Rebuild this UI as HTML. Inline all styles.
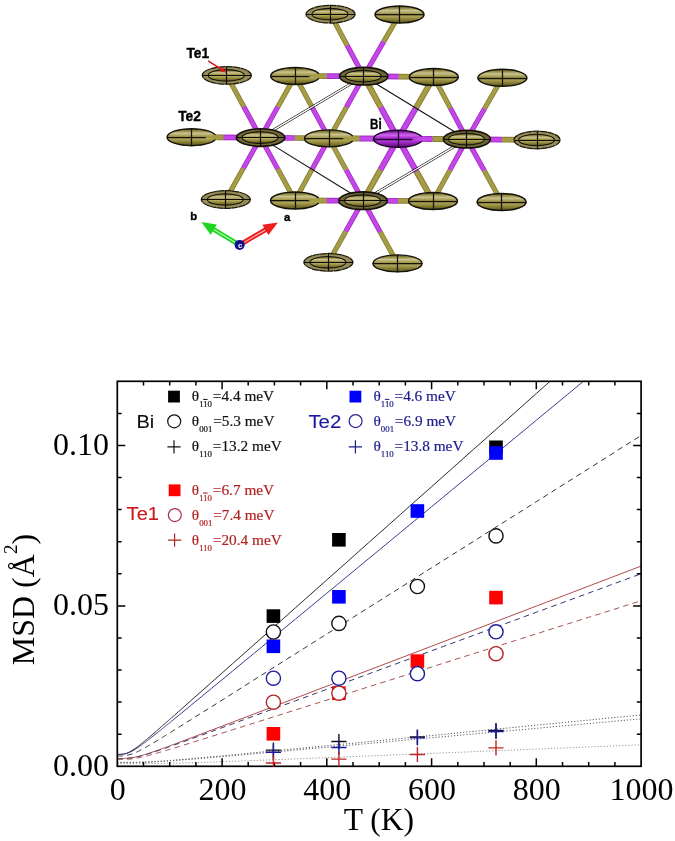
<!DOCTYPE html>
<html><head><meta charset="utf-8"><title>Figure</title>
<style>html,body{margin:0;padding:0;background:#fff}svg{display:block}</style></head>
<body>
<svg width="675" height="841" viewBox="0 0 675 841">
<rect width="675" height="841" fill="#fff"/>
<g id="structure">
<defs>
<linearGradient id="gTe" x1="0" y1="0" x2="0" y2="1">
<stop offset="0" stop-color="#4f4718"/><stop offset="0.12" stop-color="#8e8540"/><stop offset="0.27" stop-color="#cbc390"/><stop offset="0.45" stop-color="#a0974a"/><stop offset="0.51" stop-color="#7d7430"/><stop offset="0.58" stop-color="#b3aa62"/><stop offset="0.76" stop-color="#8f8638"/><stop offset="0.92" stop-color="#6a6226"/><stop offset="1" stop-color="#453d14"/>
</linearGradient>
<linearGradient id="gBi" x1="0" y1="0" x2="0" y2="1">
<stop offset="0" stop-color="#5a0f78"/><stop offset="0.12" stop-color="#9a28bc"/><stop offset="0.28" stop-color="#cf68ee"/><stop offset="0.45" stop-color="#a62acc"/><stop offset="0.51" stop-color="#7a1a9a"/><stop offset="0.58" stop-color="#b840de"/><stop offset="0.76" stop-color="#9422b8"/><stop offset="0.92" stop-color="#6a1488"/><stop offset="1" stop-color="#420a58"/>
</linearGradient>
</defs>
<g fill="none">
<path d="M260.6,137.6L223.3,137.4" stroke="#a02cc2" stroke-width="5.7"/><path d="M260.6,137.6L223.3,137.4" stroke="#c446e8" stroke-width="3.9"/>
<path d="M223.3,137.4L191.6,137.2" stroke="#857c32" stroke-width="5.7"/><path d="M223.3,137.4L191.6,137.2" stroke="#a69c46" stroke-width="3.9"/>
<path d="M260.6,137.6L294.8,138.0" stroke="#a02cc2" stroke-width="5.7"/><path d="M260.6,137.6L294.8,138.0" stroke="#c446e8" stroke-width="3.9"/>
<path d="M294.8,138.0L329.0,138.4" stroke="#857c32" stroke-width="5.7"/><path d="M294.8,138.0L329.0,138.4" stroke="#a69c46" stroke-width="3.9"/>
<path d="M260.6,137.6L243.7,106.5" stroke="#a02cc2" stroke-width="5.1"/><path d="M260.6,137.6L243.7,106.5" stroke="#c446e8" stroke-width="3.5"/>
<path d="M243.7,106.5L226.8,75.4" stroke="#857c32" stroke-width="5.1"/><path d="M243.7,106.5L226.8,75.4" stroke="#a69c46" stroke-width="3.5"/>
<path d="M260.6,137.6L277.9,106.8" stroke="#a02cc2" stroke-width="5.1"/><path d="M260.6,137.6L277.9,106.8" stroke="#c446e8" stroke-width="3.5"/>
<path d="M277.9,106.8L295.2,76.0" stroke="#857c32" stroke-width="5.1"/><path d="M277.9,106.8L295.2,76.0" stroke="#a69c46" stroke-width="3.5"/>
<path d="M260.6,137.6L243.2,168.6" stroke="#a02cc2" stroke-width="5.1"/><path d="M260.6,137.6L243.2,168.6" stroke="#c446e8" stroke-width="3.5"/>
<path d="M243.2,168.6L225.8,199.5" stroke="#857c32" stroke-width="5.1"/><path d="M243.2,168.6L225.8,199.5" stroke="#a69c46" stroke-width="3.5"/>
<path d="M260.6,137.6L277.8,169.1" stroke="#a02cc2" stroke-width="5.1"/><path d="M260.6,137.6L277.8,169.1" stroke="#c446e8" stroke-width="3.5"/>
<path d="M277.8,169.1L295.0,200.5" stroke="#857c32" stroke-width="5.1"/><path d="M277.8,169.1L295.0,200.5" stroke="#a69c46" stroke-width="3.5"/>
<path d="M363.7,76.2L326.7,76.1" stroke="#a02cc2" stroke-width="5.7"/><path d="M363.7,76.2L326.7,76.1" stroke="#c446e8" stroke-width="3.9"/>
<path d="M326.7,76.1L295.2,76.0" stroke="#857c32" stroke-width="5.7"/><path d="M326.7,76.1L295.2,76.0" stroke="#a69c46" stroke-width="3.9"/>
<path d="M363.7,76.2L398.8,76.6" stroke="#a02cc2" stroke-width="5.7"/><path d="M363.7,76.2L398.8,76.6" stroke="#c446e8" stroke-width="3.9"/>
<path d="M398.8,76.6L433.8,77.0" stroke="#857c32" stroke-width="5.7"/><path d="M398.8,76.6L433.8,77.0" stroke="#a69c46" stroke-width="3.9"/>
<path d="M363.7,76.2L347.1,45.2" stroke="#a02cc2" stroke-width="5.1"/><path d="M363.7,76.2L347.1,45.2" stroke="#c446e8" stroke-width="3.5"/>
<path d="M347.1,45.2L330.5,14.2" stroke="#857c32" stroke-width="5.1"/><path d="M347.1,45.2L330.5,14.2" stroke="#a69c46" stroke-width="3.5"/>
<path d="M363.7,76.2L383.7,41.6" stroke="#a02cc2" stroke-width="5.1"/><path d="M363.7,76.2L383.7,41.6" stroke="#c446e8" stroke-width="3.5"/>
<path d="M383.7,41.6L399.5,14.5" stroke="#857c32" stroke-width="5.1"/><path d="M383.7,41.6L399.5,14.5" stroke="#a69c46" stroke-width="3.5"/>
<path d="M363.7,76.2L346.4,107.3" stroke="#a02cc2" stroke-width="5.1"/><path d="M363.7,76.2L346.4,107.3" stroke="#c446e8" stroke-width="3.5"/>
<path d="M346.4,107.3L329.0,138.4" stroke="#857c32" stroke-width="5.1"/><path d="M346.4,107.3L329.0,138.4" stroke="#a69c46" stroke-width="3.5"/>
<path d="M363.0,200.7L326.3,200.6" stroke="#a02cc2" stroke-width="5.7"/><path d="M363.0,200.7L326.3,200.6" stroke="#c446e8" stroke-width="3.9"/>
<path d="M326.3,200.6L295.0,200.5" stroke="#857c32" stroke-width="5.7"/><path d="M326.3,200.6L295.0,200.5" stroke="#a69c46" stroke-width="3.9"/>
<path d="M363.0,200.7L398.0,200.8" stroke="#a02cc2" stroke-width="5.7"/><path d="M363.0,200.7L398.0,200.8" stroke="#c446e8" stroke-width="3.9"/>
<path d="M398.0,200.8L433.0,201.0" stroke="#857c32" stroke-width="5.7"/><path d="M398.0,200.8L433.0,201.0" stroke="#a69c46" stroke-width="3.9"/>
<path d="M363.0,200.7L345.7,231.5" stroke="#a02cc2" stroke-width="5.1"/><path d="M363.0,200.7L345.7,231.5" stroke="#c446e8" stroke-width="3.5"/>
<path d="M345.7,231.5L328.4,262.3" stroke="#857c32" stroke-width="5.1"/><path d="M345.7,231.5L328.4,262.3" stroke="#a69c46" stroke-width="3.5"/>
<path d="M363.0,200.7L380.2,232.0" stroke="#a02cc2" stroke-width="5.1"/><path d="M363.0,200.7L380.2,232.0" stroke="#c446e8" stroke-width="3.5"/>
<path d="M380.2,232.0L397.5,263.4" stroke="#857c32" stroke-width="5.1"/><path d="M380.2,232.0L397.5,263.4" stroke="#a69c46" stroke-width="3.5"/>
<path d="M363.0,200.7L346.0,169.6" stroke="#a02cc2" stroke-width="5.1"/><path d="M363.0,200.7L346.0,169.6" stroke="#c446e8" stroke-width="3.5"/>
<path d="M346.0,169.6L329.0,138.4" stroke="#857c32" stroke-width="5.1"/><path d="M346.0,169.6L329.0,138.4" stroke="#a69c46" stroke-width="3.5"/>
<path d="M466.9,139.2L501.9,139.6" stroke="#a02cc2" stroke-width="5.7"/><path d="M466.9,139.2L501.9,139.6" stroke="#c446e8" stroke-width="3.9"/>
<path d="M501.9,139.6L537.0,140.0" stroke="#857c32" stroke-width="5.7"/><path d="M501.9,139.6L537.0,140.0" stroke="#a69c46" stroke-width="3.9"/>
<path d="M466.9,139.2L450.4,108.1" stroke="#a02cc2" stroke-width="5.1"/><path d="M466.9,139.2L450.4,108.1" stroke="#c446e8" stroke-width="3.5"/>
<path d="M450.4,108.1L433.8,77.0" stroke="#857c32" stroke-width="5.1"/><path d="M450.4,108.1L433.8,77.0" stroke="#a69c46" stroke-width="3.5"/>
<path d="M466.9,139.2L484.6,108.5" stroke="#a02cc2" stroke-width="5.1"/><path d="M466.9,139.2L484.6,108.5" stroke="#c446e8" stroke-width="3.5"/>
<path d="M484.6,108.5L502.4,77.8" stroke="#857c32" stroke-width="5.1"/><path d="M484.6,108.5L502.4,77.8" stroke="#a69c46" stroke-width="3.5"/>
<path d="M466.9,139.2L449.9,170.1" stroke="#a02cc2" stroke-width="5.1"/><path d="M466.9,139.2L449.9,170.1" stroke="#c446e8" stroke-width="3.5"/>
<path d="M449.9,170.1L433.0,201.0" stroke="#857c32" stroke-width="5.1"/><path d="M449.9,170.1L433.0,201.0" stroke="#a69c46" stroke-width="3.5"/>
<path d="M466.9,139.2L484.2,170.6" stroke="#a02cc2" stroke-width="5.1"/><path d="M466.9,139.2L484.2,170.6" stroke="#c446e8" stroke-width="3.5"/>
<path d="M484.2,170.6L501.6,202.0" stroke="#857c32" stroke-width="5.1"/><path d="M484.2,170.6L501.6,202.0" stroke="#a69c46" stroke-width="3.5"/>
<path d="M363.7,76.2L380.9,107.5" stroke="#857c32" stroke-width="6.0"/><path d="M363.7,76.2L380.9,107.5" stroke="#a69c46" stroke-width="4.1"/>
<path d="M380.9,107.5L398.0,138.8" stroke="#a02cc2" stroke-width="6.0"/><path d="M380.9,107.5L398.0,138.8" stroke="#c446e8" stroke-width="4.1"/>
<path d="M363.0,200.7L380.5,169.8" stroke="#857c32" stroke-width="6.0"/><path d="M363.0,200.7L380.5,169.8" stroke="#a69c46" stroke-width="4.1"/>
<path d="M380.5,169.8L398.0,138.8" stroke="#a02cc2" stroke-width="6.0"/><path d="M380.5,169.8L398.0,138.8" stroke="#c446e8" stroke-width="4.1"/>
<path d="M466.9,139.2L432.4,139.0" stroke="#857c32" stroke-width="6.0"/><path d="M466.9,139.2L432.4,139.0" stroke="#a69c46" stroke-width="4.1"/>
<path d="M432.4,139.0L398.0,138.8" stroke="#a02cc2" stroke-width="6.0"/><path d="M432.4,139.0L398.0,138.8" stroke="#c446e8" stroke-width="4.1"/>
<path d="M398.0,138.8L359.4,138.6" stroke="#a02cc2" stroke-width="6.0"/><path d="M398.0,138.8L359.4,138.6" stroke="#c446e8" stroke-width="4.1"/>
<path d="M359.4,138.6L329.0,138.4" stroke="#857c32" stroke-width="6.0"/><path d="M359.4,138.6L329.0,138.4" stroke="#a69c46" stroke-width="4.1"/>
<path d="M398.0,138.8L415.9,107.9" stroke="#a02cc2" stroke-width="6.0"/><path d="M398.0,138.8L415.9,107.9" stroke="#c446e8" stroke-width="4.1"/>
<path d="M415.9,107.9L433.8,77.0" stroke="#857c32" stroke-width="6.0"/><path d="M415.9,107.9L433.8,77.0" stroke="#a69c46" stroke-width="4.1"/>
<path d="M398.0,138.8L416.6,171.8" stroke="#a02cc2" stroke-width="6.0"/><path d="M398.0,138.8L416.6,171.8" stroke="#c446e8" stroke-width="4.1"/>
<path d="M416.6,171.8L433.0,201.0" stroke="#857c32" stroke-width="6.0"/><path d="M416.6,171.8L433.0,201.0" stroke="#a69c46" stroke-width="4.1"/>
<path d="M329.0,138.4L312.1,107.2" stroke="#a02cc2" stroke-width="5.1"/><path d="M329.0,138.4L312.1,107.2" stroke="#c446e8" stroke-width="3.5"/>
<path d="M312.1,107.2L295.2,76.0" stroke="#857c32" stroke-width="5.1"/><path d="M312.1,107.2L295.2,76.0" stroke="#a69c46" stroke-width="3.5"/>
<path d="M329.0,138.4L312.0,169.4" stroke="#a02cc2" stroke-width="5.1"/><path d="M329.0,138.4L312.0,169.4" stroke="#c446e8" stroke-width="3.5"/>
<path d="M312.0,169.4L295.0,200.5" stroke="#857c32" stroke-width="5.1"/><path d="M312.0,169.4L295.0,200.5" stroke="#a69c46" stroke-width="3.5"/>
</g>
<path d="M260.1,136.8L363.2,75.4" stroke="#111" stroke-width="0.8"/><path d="M261.1,138.4L364.2,77.0" stroke="#111" stroke-width="0.8"/><path d="M260.6,137.6L363.7,76.2" stroke="#fff" stroke-width="1.0"/>
<path d="M362.5,199.9L466.4,138.4" stroke="#111" stroke-width="0.8"/><path d="M363.5,201.5L467.4,140.0" stroke="#111" stroke-width="0.8"/><path d="M363.0,200.7L466.9,139.2" stroke="#fff" stroke-width="1.0"/>
<path d="M363.7,76.2L466.9,139.2" stroke="#111" stroke-width="1.1"/>
<path d="M260.6,137.6L363.0,200.7" stroke="#111" stroke-width="1.1"/>
<ellipse cx="433.8" cy="77.0" rx="24.5" ry="8.5" fill="url(#gTe)" stroke="#15120a" stroke-width="1.4"/><path d="M409.0,77.5H458.6M433.5,68.2V85.8" stroke="#15120a" stroke-width="1.25" fill="none"/>
<ellipse cx="502.4" cy="77.8" rx="24.5" ry="8.5" fill="url(#gTe)" stroke="#15120a" stroke-width="1.4"/><path d="M477.6,78.5H527.2M502.5,69.0V86.6" stroke="#15120a" stroke-width="1.25" fill="none"/>
<ellipse cx="433.0" cy="201.0" rx="24.5" ry="8.5" fill="url(#gTe)" stroke="#15120a" stroke-width="1.4"/><path d="M408.2,201.5H457.8M433.5,192.2V209.8" stroke="#15120a" stroke-width="1.25" fill="none"/>
<ellipse cx="501.6" cy="202.0" rx="24.5" ry="8.5" fill="url(#gTe)" stroke="#15120a" stroke-width="1.4"/><path d="M476.8,202.5H526.4M501.5,193.2V210.8" stroke="#15120a" stroke-width="1.25" fill="none"/>
<ellipse cx="399.5" cy="14.5" rx="24.5" ry="8.5" fill="url(#gTe)" stroke="#15120a" stroke-width="1.4"/><path d="M374.7,14.5H424.3M399.5,5.7V23.3" stroke="#15120a" stroke-width="1.25" fill="none"/>
<ellipse cx="397.5" cy="263.4" rx="24.5" ry="8.5" fill="url(#gTe)" stroke="#15120a" stroke-width="1.4"/><path d="M372.7,263.5H422.3M397.5,254.6V272.2" stroke="#15120a" stroke-width="1.25" fill="none"/>
<ellipse cx="191.6" cy="137.2" rx="24.5" ry="8.5" fill="url(#gTe)" stroke="#15120a" stroke-width="1.4"/><path d="M166.8,137.5H206.1M191.5,128.4V146.0" stroke="#15120a" stroke-width="1.25" fill="none"/><path d="M204.6,137.5L218.4,134.3L218.4,140.3Z" fill="#a69c46"/>
<ellipse cx="295.2" cy="76.0" rx="24.5" ry="8.5" fill="url(#gTe)" stroke="#15120a" stroke-width="1.4"/><path d="M270.4,76.5H309.7M295.5,67.2V84.8" stroke="#15120a" stroke-width="1.25" fill="none"/><path d="M308.2,76.3L322.0,73.1L322.0,79.1Z" fill="#a69c46"/>
<ellipse cx="329.0" cy="138.4" rx="24.5" ry="8.5" fill="url(#gTe)" stroke="#15120a" stroke-width="1.4"/><path d="M304.2,138.5H343.5M329.5,129.6V147.2" stroke="#15120a" stroke-width="1.25" fill="none"/><path d="M342.0,138.7L355.8,135.5L355.8,141.5Z" fill="#a69c46"/>
<ellipse cx="295.0" cy="200.5" rx="24.5" ry="8.5" fill="url(#gTe)" stroke="#15120a" stroke-width="1.4"/><path d="M270.2,200.5H309.5M295.5,191.7V209.3" stroke="#15120a" stroke-width="1.25" fill="none"/><path d="M308.0,200.8L321.8,197.6L321.8,203.6Z" fill="#a69c46"/>
<ellipse cx="398.0" cy="138.8" rx="24.5" ry="8.5" fill="url(#gBi)" stroke="#1c0626" stroke-width="1.4"/><path d="M373.2,139.5H412.5M398.5,130.0V147.6" stroke="#1c0626" stroke-width="1.25" fill="none"/><path d="M411.0,139.1L424.8,135.9L424.8,141.9Z" fill="#c446e8"/>
<ellipse cx="226.8" cy="75.4" rx="24.5" ry="8.8" fill="#978d58" stroke="#1c180a" stroke-width="1.25" stroke-dasharray="7 0.4"/><ellipse cx="226.3" cy="75.4" rx="18" ry="5.8" fill="url(#gTe)" stroke="#15120a" stroke-width="1.1"/><path d="M202.3,75.5H251.3M226.5,66.6V84.2" stroke="#0c0a05" stroke-width="1.15" fill="none"/>
<ellipse cx="225.8" cy="199.5" rx="24.5" ry="8.8" fill="#978d58" stroke="#1c180a" stroke-width="1.25" stroke-dasharray="7 0.4"/><ellipse cx="225.3" cy="199.5" rx="18" ry="5.8" fill="url(#gTe)" stroke="#15120a" stroke-width="1.1"/><path d="M201.3,199.5H250.3M225.5,190.7V208.3" stroke="#0c0a05" stroke-width="1.15" fill="none"/>
<ellipse cx="330.5" cy="14.2" rx="24.5" ry="8.8" fill="#978d58" stroke="#1c180a" stroke-width="1.25" stroke-dasharray="7 0.4"/><ellipse cx="330.0" cy="14.2" rx="18" ry="5.8" fill="url(#gTe)" stroke="#15120a" stroke-width="1.1"/><path d="M306.0,14.5H355.0M330.5,5.4V23.0" stroke="#0c0a05" stroke-width="1.15" fill="none"/>
<ellipse cx="328.4" cy="262.3" rx="24.5" ry="8.8" fill="#978d58" stroke="#1c180a" stroke-width="1.25" stroke-dasharray="7 0.4"/><ellipse cx="327.9" cy="262.3" rx="18" ry="5.8" fill="url(#gTe)" stroke="#15120a" stroke-width="1.1"/><path d="M303.9,262.5H352.9M328.5,253.5V271.1" stroke="#0c0a05" stroke-width="1.15" fill="none"/>
<ellipse cx="537.0" cy="140.0" rx="23.0" ry="8.8" fill="#978d58" stroke="#1c180a" stroke-width="1.25" stroke-dasharray="7 0.4"/><ellipse cx="536.5" cy="140.0" rx="18" ry="5.8" fill="url(#gTe)" stroke="#15120a" stroke-width="1.1"/><path d="M514.0,140.5H560.0M537.5,131.2V148.8" stroke="#0c0a05" stroke-width="1.15" fill="none"/>
<ellipse cx="260.6" cy="137.6" rx="24.2" ry="8.8" fill="#6e6636" stroke="#15120a" stroke-width="1.6"/><ellipse cx="260.1" cy="137.6" rx="18" ry="5.8" fill="url(#gTe)" stroke="#15120a" stroke-width="1.1"/><path d="M236.4,137.5H284.8M260.5,128.8V146.4" stroke="#0c0a05" stroke-width="1.15" fill="none"/>
<ellipse cx="363.7" cy="76.2" rx="24.2" ry="8.8" fill="#6e6636" stroke="#15120a" stroke-width="1.6"/><ellipse cx="363.2" cy="76.2" rx="18" ry="5.8" fill="url(#gTe)" stroke="#15120a" stroke-width="1.1"/><path d="M339.5,76.5H387.9M363.5,67.4V85.0" stroke="#0c0a05" stroke-width="1.15" fill="none"/>
<ellipse cx="363.0" cy="200.7" rx="24.2" ry="8.8" fill="#6e6636" stroke="#15120a" stroke-width="1.6"/><ellipse cx="362.5" cy="200.7" rx="18" ry="5.8" fill="url(#gTe)" stroke="#15120a" stroke-width="1.1"/><path d="M338.8,200.5H387.2M363.5,191.9V209.5" stroke="#0c0a05" stroke-width="1.15" fill="none"/>
<ellipse cx="466.9" cy="139.2" rx="23.5" ry="8.8" fill="#6e6636" stroke="#15120a" stroke-width="1.6"/><ellipse cx="466.4" cy="139.2" rx="18" ry="5.8" fill="url(#gTe)" stroke="#15120a" stroke-width="1.1"/><path d="M443.4,139.5H490.4M466.5,130.4V148.0" stroke="#0c0a05" stroke-width="1.15" fill="none"/>
<g font-family="'Liberation Sans',sans-serif" font-weight="bold" fill="#000" stroke="#000" stroke-width="0.35" stroke-linejoin="round">
<text x="186.4" y="58.2" font-size="14.9" textLength="22.7" lengthAdjust="spacingAndGlyphs">Te1</text>
<text x="178.2" y="120.6" font-size="14.7" textLength="22.8" lengthAdjust="spacingAndGlyphs">Te2</text>
<text x="370.1" y="128.6" font-size="14.4" textLength="11.6" lengthAdjust="spacingAndGlyphs">Bi</text>
<text x="190.3" y="220.0" font-size="11.3">b</text>
<text x="283.9" y="221.0" font-size="11.3">a</text>
</g>
<path d="M208.2,60.8L224,71" stroke="#e01818" stroke-width="1.5" fill="none"/><path d="M226.4,72.6L220.2,71.6L223,67.4Z" fill="#e01818"/>
<path d="M239.6,244.9L212.9,229.0" stroke="#1fd51f" stroke-width="4.7"/><path d="M239.6,244.9L213.8,229.5" stroke="#b8ffb8" stroke-width="1.2"/><path d="M201.3,222.1L216.8,224.4L210.7,234.7Z" fill="#1fd51f"/>
<path d="M239.6,244.9L266.2,229.4" stroke="#ee1c1c" stroke-width="4.7"/><path d="M239.6,244.9L265.4,229.9" stroke="#ffb0b0" stroke-width="1.2"/><path d="M277.9,222.6L268.4,235.1L262.4,224.7Z" fill="#ee1c1c"/>
<circle cx="239.6" cy="244.9" r="5" fill="#10108c"/>
<text x="240.2" y="247.5" font-family="'Liberation Sans',sans-serif" font-weight="bold" font-size="8" fill="#fff" text-anchor="middle">c</text>
</g>
<g id="plot">
<clipPath id="pc"><rect x="117.3" y="381.3" width="523.8" height="385.0"/></clipPath>
<g clip-path="url(#pc)" fill="none" stroke-width="1">
<path d="M117.3,754.4 L118.3,754.4 L119.4,754.4 L120.4,754.4 L121.5,754.3 L122.5,754.2 L123.6,754.0 L124.6,753.8 L125.7,753.5 L126.7,753.2 L127.8,752.8 L128.8,752.3 L129.9,751.8 L130.9,751.2 L132.0,750.6 L133.0,749.9 L134.1,749.2 L135.1,748.5 L136.2,747.7 L137.2,747.0 L138.3,746.2 L139.3,745.4 L140.3,744.5 L141.4,743.7 L142.4,742.9 L143.5,742.0 L144.5,741.2 L145.6,740.3 L146.6,739.4 L147.7,738.5 L148.7,737.6 L149.8,736.8 L150.8,735.9 L151.9,735.0 L152.9,734.1 L154.0,733.2 L155.0,732.3 L156.1,731.4 L157.1,730.4 L158.2,729.5 L159.2,728.6 L160.3,727.7 L161.3,726.8 L162.3,725.9 L163.4,725.0 L164.4,724.0 L165.5,723.1 L166.5,722.2 L167.6,721.3 L168.6,720.4 L169.7,719.4 L170.7,718.5 L171.8,717.6 L172.8,716.7 L173.9,715.8 L174.9,714.8 L176.0,713.9 L177.0,713.0 L178.1,712.1 L179.1,711.1 L180.2,710.2 L190.6,700.9 L201.1,691.6 L211.6,682.3 L222.1,673.0 L232.5,663.7 L243.0,654.4 L253.5,645.1 L264.0,635.8 L274.4,626.5 L284.9,617.2 L295.4,607.8 L305.9,598.5 L316.3,589.2 L326.8,579.9 L337.3,570.6 L347.8,561.3 L358.2,551.9 L368.7,542.6 L379.2,533.3 L389.7,524.0 L400.2,514.7 L410.6,505.3 L421.1,496.0 L431.6,486.7 L442.1,477.4 L452.5,468.1 L463.0,458.7 L473.5,449.4 L484.0,440.1 L494.4,430.8 L504.9,421.5 L515.4,412.2 L525.9,402.8 L536.3,393.5 L546.8,384.2 L557.3,374.9 L567.8,365.6 L578.2,356.2 L588.7,346.9 L599.2,337.6 L609.7,328.3 L620.1,319.0 L630.6,309.6 L641.1,300.3" stroke="#2a2a2a"/>
<path d="M117.3,754.4 L118.3,754.4 L119.4,754.4 L120.4,754.4 L121.5,754.3 L122.5,754.2 L123.6,754.1 L124.6,753.9 L125.7,753.7 L126.7,753.4 L127.8,753.1 L128.8,752.7 L129.9,752.2 L130.9,751.7 L132.0,751.2 L133.0,750.6 L134.1,750.0 L135.1,749.4 L136.2,748.7 L137.2,748.0 L138.3,747.3 L139.3,746.6 L140.3,745.8 L141.4,745.1 L142.4,744.3 L143.5,743.5 L144.5,742.8 L145.6,742.0 L146.6,741.2 L147.7,740.4 L148.7,739.5 L149.8,738.7 L150.8,737.9 L151.9,737.1 L152.9,736.3 L154.0,735.4 L155.0,734.6 L156.1,733.8 L157.1,732.9 L158.2,732.1 L159.2,731.2 L160.3,730.4 L161.3,729.5 L162.3,728.7 L163.4,727.8 L164.4,727.0 L165.5,726.2 L166.5,725.3 L167.6,724.4 L168.6,723.6 L169.7,722.7 L170.7,721.9 L171.8,721.0 L172.8,720.2 L173.9,719.3 L174.9,718.5 L176.0,717.6 L177.0,716.8 L178.1,715.9 L179.1,715.0 L180.2,714.2 L190.6,705.6 L201.1,697.0 L211.6,688.3 L222.1,679.7 L232.5,671.1 L243.0,662.4 L253.5,653.8 L264.0,645.1 L274.4,636.5 L284.9,627.8 L295.4,619.2 L305.9,610.5 L316.3,601.9 L326.8,593.2 L337.3,584.6 L347.8,575.9 L358.2,567.3 L368.7,558.6 L379.2,550.0 L389.7,541.3 L400.2,532.7 L410.6,524.0 L421.1,515.4 L431.6,506.7 L442.1,498.1 L452.5,489.4 L463.0,480.8 L473.5,472.1 L484.0,463.5 L494.4,454.8 L504.9,446.2 L515.4,437.5 L525.9,428.9 L536.3,420.2 L546.8,411.6 L557.3,402.9 L567.8,394.2 L578.2,385.6 L588.7,376.9 L599.2,368.3 L609.7,359.6 L620.1,351.0 L630.6,342.3 L641.1,333.7" stroke="#3c3c8c"/>
<path d="M117.3,756.0 L118.3,756.0 L119.4,756.0 L120.4,756.0 L121.5,756.0 L122.5,755.9 L123.6,755.8 L124.6,755.7 L125.7,755.6 L126.7,755.4 L127.8,755.2 L128.8,754.9 L129.9,754.6 L130.9,754.3 L132.0,754.0 L133.0,753.6 L134.1,753.2 L135.1,752.7 L136.2,752.3 L137.2,751.8 L138.3,751.3 L139.3,750.7 L140.3,750.2 L141.4,749.7 L142.4,749.1 L143.5,748.5 L144.5,748.0 L145.6,747.4 L146.6,746.8 L147.7,746.2 L148.7,745.6 L149.8,745.0 L150.8,744.4 L151.9,743.7 L152.9,743.1 L154.0,742.5 L155.0,741.9 L156.1,741.2 L157.1,740.6 L158.2,740.0 L159.2,739.3 L160.3,738.7 L161.3,738.1 L162.3,737.4 L163.4,736.8 L164.4,736.1 L165.5,735.5 L166.5,734.8 L167.6,734.2 L168.6,733.5 L169.7,732.9 L170.7,732.2 L171.8,731.6 L172.8,730.9 L173.9,730.3 L174.9,729.6 L176.0,729.0 L177.0,728.3 L178.1,727.7 L179.1,727.0 L180.2,726.4 L190.6,719.8 L201.1,713.2 L211.6,706.7 L222.1,700.1 L232.5,693.5 L243.0,686.9 L253.5,680.2 L264.0,673.6 L274.4,667.0 L284.9,660.4 L295.4,653.8 L305.9,647.2 L316.3,640.6 L326.8,634.0 L337.3,627.4 L347.8,620.7 L358.2,614.1 L368.7,607.5 L379.2,600.9 L389.7,594.3 L400.2,587.7 L410.6,581.1 L421.1,574.4 L431.6,567.8 L442.1,561.2 L452.5,554.6 L463.0,548.0 L473.5,541.4 L484.0,534.7 L494.4,528.1 L504.9,521.5 L515.4,514.9 L525.9,508.3 L536.3,501.7 L546.8,495.1 L557.3,488.4 L567.8,481.8 L578.2,475.2 L588.7,468.6 L599.2,462.0 L609.7,455.4 L620.1,448.7 L630.6,442.1 L641.1,435.5" stroke="#333" stroke-dasharray="5.6 4.2"/>
<path d="M117.3,758.6 L118.3,758.6 L119.4,758.6 L120.4,758.6 L121.5,758.6 L122.5,758.6 L123.6,758.5 L124.6,758.5 L125.7,758.4 L126.7,758.3 L127.8,758.3 L128.8,758.1 L129.9,758.0 L130.9,757.9 L132.0,757.7 L133.0,757.5 L134.1,757.3 L135.1,757.1 L136.2,756.9 L137.2,756.7 L138.3,756.4 L139.3,756.1 L140.3,755.9 L141.4,755.6 L142.4,755.3 L143.5,755.0 L144.5,754.6 L145.6,754.3 L146.6,754.0 L147.7,753.7 L148.7,753.3 L149.8,753.0 L150.8,752.6 L151.9,752.3 L152.9,751.9 L154.0,751.6 L155.0,751.2 L156.1,750.8 L157.1,750.5 L158.2,750.1 L159.2,749.7 L160.3,749.3 L161.3,749.0 L162.3,748.6 L163.4,748.2 L164.4,747.8 L165.5,747.4 L166.5,747.1 L167.6,746.7 L168.6,746.3 L169.7,745.9 L170.7,745.5 L171.8,745.1 L172.8,744.7 L173.9,744.4 L174.9,744.0 L176.0,743.6 L177.0,743.2 L178.1,742.8 L179.1,742.4 L180.2,742.0 L190.6,738.1 L201.1,734.1 L211.6,730.1 L222.1,726.2 L232.5,722.2 L243.0,718.2 L253.5,714.2 L264.0,710.2 L274.4,706.2 L284.9,702.2 L295.4,698.2 L305.9,694.2 L316.3,690.2 L326.8,686.2 L337.3,682.2 L347.8,678.2 L358.2,674.2 L368.7,670.2 L379.2,666.2 L389.7,662.2 L400.2,658.2 L410.6,654.2 L421.1,650.2 L431.6,646.2 L442.1,642.2 L452.5,638.2 L463.0,634.2 L473.5,630.2 L484.0,626.2 L494.4,622.1 L504.9,618.1 L515.4,614.1 L525.9,610.1 L536.3,606.1 L546.8,602.1 L557.3,598.1 L567.8,594.1 L578.2,590.1 L588.7,586.1 L599.2,582.1 L609.7,578.1 L620.1,574.1 L630.6,570.1 L641.1,566.1" stroke="#b04a4a"/>
<path d="M117.3,758.6 L118.3,758.6 L119.4,758.6 L120.4,758.6 L121.5,758.6 L122.5,758.6 L123.6,758.5 L124.6,758.5 L125.7,758.4 L126.7,758.4 L127.8,758.3 L128.8,758.2 L129.9,758.1 L130.9,758.0 L132.0,757.8 L133.0,757.6 L134.1,757.5 L135.1,757.3 L136.2,757.1 L137.2,756.8 L138.3,756.6 L139.3,756.4 L140.3,756.1 L141.4,755.8 L142.4,755.5 L143.5,755.3 L144.5,755.0 L145.6,754.7 L146.6,754.3 L147.7,754.0 L148.7,753.7 L149.8,753.4 L150.8,753.0 L151.9,752.7 L152.9,752.4 L154.0,752.0 L155.0,751.7 L156.1,751.3 L157.1,751.0 L158.2,750.6 L159.2,750.3 L160.3,749.9 L161.3,749.6 L162.3,749.2 L163.4,748.8 L164.4,748.5 L165.5,748.1 L166.5,747.8 L167.6,747.4 L168.6,747.0 L169.7,746.6 L170.7,746.3 L171.8,745.9 L172.8,745.5 L173.9,745.2 L174.9,744.8 L176.0,744.4 L177.0,744.0 L178.1,743.7 L179.1,743.3 L180.2,742.9 L190.6,739.1 L201.1,735.3 L211.6,731.5 L222.1,727.7 L232.5,723.9 L243.0,720.0 L253.5,716.2 L264.0,712.3 L274.4,708.5 L284.9,704.7 L295.4,700.8 L305.9,697.0 L316.3,693.1 L326.8,689.3 L337.3,685.4 L347.8,681.6 L358.2,677.7 L368.7,673.9 L379.2,670.0 L389.7,666.2 L400.2,662.3 L410.6,658.5 L421.1,654.6 L431.6,650.8 L442.1,646.9 L452.5,643.1 L463.0,639.2 L473.5,635.4 L484.0,631.5 L494.4,627.7 L504.9,623.8 L515.4,620.0 L525.9,616.1 L536.3,612.3 L546.8,608.4 L557.3,604.6 L567.8,600.7 L578.2,596.9 L588.7,593.0 L599.2,589.2 L609.7,585.3 L620.1,581.5 L630.6,577.6 L641.1,573.8" stroke="#34346e" stroke-dasharray="5.6 4.2"/>
<path d="M117.3,759.6 L118.3,759.6 L119.4,759.6 L120.4,759.6 L121.5,759.5 L122.5,759.5 L123.6,759.5 L124.6,759.5 L125.7,759.4 L126.7,759.4 L127.8,759.3 L128.8,759.2 L129.9,759.1 L130.9,759.0 L132.0,758.9 L133.0,758.8 L134.1,758.6 L135.1,758.4 L136.2,758.3 L137.2,758.1 L138.3,757.9 L139.3,757.7 L140.3,757.5 L141.4,757.2 L142.4,757.0 L143.5,756.7 L144.5,756.5 L145.6,756.2 L146.6,756.0 L147.7,755.7 L148.7,755.4 L149.8,755.1 L150.8,754.9 L151.9,754.6 L152.9,754.3 L154.0,754.0 L155.0,753.7 L156.1,753.4 L157.1,753.1 L158.2,752.8 L159.2,752.5 L160.3,752.2 L161.3,751.9 L162.3,751.6 L163.4,751.3 L164.4,751.0 L165.5,750.6 L166.5,750.3 L167.6,750.0 L168.6,749.7 L169.7,749.4 L170.7,749.1 L171.8,748.7 L172.8,748.4 L173.9,748.1 L174.9,747.8 L176.0,747.5 L177.0,747.1 L178.1,746.8 L179.1,746.5 L180.2,746.2 L190.6,742.9 L201.1,739.7 L211.6,736.4 L222.1,733.1 L232.5,729.8 L243.0,726.5 L253.5,723.2 L264.0,719.9 L274.4,716.6 L284.9,713.3 L295.4,710.0 L305.9,706.7 L316.3,703.4 L326.8,700.1 L337.3,696.7 L347.8,693.4 L358.2,690.1 L368.7,686.8 L379.2,683.5 L389.7,680.2 L400.2,676.9 L410.6,673.6 L421.1,670.3 L431.6,667.0 L442.1,663.6 L452.5,660.3 L463.0,657.0 L473.5,653.7 L484.0,650.4 L494.4,647.1 L504.9,643.8 L515.4,640.5 L525.9,637.2 L536.3,633.9 L546.8,630.5 L557.3,627.2 L567.8,623.9 L578.2,620.6 L588.7,617.3 L599.2,614.0 L609.7,610.7 L620.1,607.4 L630.6,604.1 L641.1,600.7" stroke="#a85050" stroke-dasharray="5.6 4.2"/>
<path d="M117.3,762.4 L118.3,762.4 L119.4,762.4 L120.4,762.4 L121.5,762.4 L122.5,762.4 L123.6,762.4 L124.6,762.4 L125.7,762.4 L126.7,762.4 L127.8,762.4 L128.8,762.4 L129.9,762.4 L130.9,762.4 L132.0,762.4 L133.0,762.4 L134.1,762.4 L135.1,762.3 L136.2,762.3 L137.2,762.3 L138.3,762.3 L139.3,762.2 L140.3,762.2 L141.4,762.2 L142.4,762.1 L143.5,762.1 L144.5,762.1 L145.6,762.0 L146.6,762.0 L147.7,761.9 L148.7,761.9 L149.8,761.8 L150.8,761.8 L151.9,761.7 L152.9,761.7 L154.0,761.6 L155.0,761.5 L156.1,761.5 L157.1,761.4 L158.2,761.4 L159.2,761.3 L160.3,761.2 L161.3,761.1 L162.3,761.1 L163.4,761.0 L164.4,760.9 L165.5,760.8 L166.5,760.8 L167.6,760.7 L168.6,760.6 L169.7,760.5 L170.7,760.4 L171.8,760.4 L172.8,760.3 L173.9,760.2 L174.9,760.1 L176.0,760.0 L177.0,759.9 L178.1,759.9 L179.1,759.8 L180.2,759.7 L190.6,758.8 L201.1,757.8 L211.6,756.8 L222.1,755.9 L232.5,754.9 L243.0,753.9 L253.5,752.8 L264.0,751.8 L274.4,750.8 L284.9,749.8 L295.4,748.8 L305.9,747.8 L316.3,746.7 L326.8,745.7 L337.3,744.7 L347.8,743.7 L358.2,742.7 L368.7,741.6 L379.2,740.6 L389.7,739.6 L400.2,738.6 L410.6,737.5 L421.1,736.5 L431.6,735.5 L442.1,734.5 L452.5,733.4 L463.0,732.4 L473.5,731.4 L484.0,730.4 L494.4,729.3 L504.9,728.3 L515.4,727.3 L525.9,726.2 L536.3,725.2 L546.8,724.2 L557.3,723.2 L567.8,722.1 L578.2,721.1 L588.7,720.1 L599.2,719.1 L609.7,718.0 L620.1,717.0 L630.6,716.0 L641.1,715.0" stroke="#555" stroke-dasharray="1.2 1.9"/>
<path d="M117.3,762.6 L118.3,762.6 L119.4,762.6 L120.4,762.6 L121.5,762.6 L122.5,762.6 L123.6,762.6 L124.6,762.6 L125.7,762.6 L126.7,762.6 L127.8,762.6 L128.8,762.6 L129.9,762.6 L130.9,762.6 L132.0,762.6 L133.0,762.5 L134.1,762.5 L135.1,762.5 L136.2,762.5 L137.2,762.5 L138.3,762.4 L139.3,762.4 L140.3,762.4 L141.4,762.4 L142.4,762.3 L143.5,762.3 L144.5,762.3 L145.6,762.2 L146.6,762.2 L147.7,762.2 L148.7,762.1 L149.8,762.1 L150.8,762.0 L151.9,762.0 L152.9,761.9 L154.0,761.9 L155.0,761.8 L156.1,761.8 L157.1,761.7 L158.2,761.6 L159.2,761.6 L160.3,761.5 L161.3,761.5 L162.3,761.4 L163.4,761.3 L164.4,761.3 L165.5,761.2 L166.5,761.1 L167.6,761.0 L168.6,761.0 L169.7,760.9 L170.7,760.8 L171.8,760.8 L172.8,760.7 L173.9,760.6 L174.9,760.5 L176.0,760.4 L177.0,760.4 L178.1,760.3 L179.1,760.2 L180.2,760.1 L190.6,759.3 L201.1,758.4 L211.6,757.5 L222.1,756.6 L232.5,755.7 L243.0,754.8 L253.5,753.8 L264.0,752.9 L274.4,752.0 L284.9,751.0 L295.4,750.1 L305.9,749.1 L316.3,748.2 L326.8,747.3 L337.3,746.3 L347.8,745.4 L358.2,744.4 L368.7,743.5 L379.2,742.5 L389.7,741.6 L400.2,740.6 L410.6,739.7 L421.1,738.7 L431.6,737.8 L442.1,736.8 L452.5,735.9 L463.0,734.9 L473.5,734.0 L484.0,733.0 L494.4,732.1 L504.9,731.1 L515.4,730.2 L525.9,729.3 L536.3,728.3 L546.8,727.4 L557.3,726.4 L567.8,725.5 L578.2,724.5 L588.7,723.6 L599.2,722.6 L609.7,721.7 L620.1,720.7 L630.6,719.8 L641.1,718.8" stroke="#5c5c68" stroke-dasharray="1.2 1.9"/>
<path d="M117.3,763.7 L118.3,763.7 L119.4,763.7 L120.4,763.7 L121.5,763.7 L122.5,763.7 L123.6,763.7 L124.6,763.7 L125.7,763.7 L126.7,763.7 L127.8,763.7 L128.8,763.7 L129.9,763.7 L130.9,763.7 L132.0,763.7 L133.0,763.7 L134.1,763.7 L135.1,763.7 L136.2,763.7 L137.2,763.7 L138.3,763.7 L139.3,763.7 L140.3,763.7 L141.4,763.7 L142.4,763.7 L143.5,763.7 L144.5,763.7 L145.6,763.7 L146.6,763.6 L147.7,763.6 L148.7,763.6 L149.8,763.6 L150.8,763.6 L151.9,763.6 L152.9,763.6 L154.0,763.6 L155.0,763.6 L156.1,763.5 L157.1,763.5 L158.2,763.5 L159.2,763.5 L160.3,763.5 L161.3,763.5 L162.3,763.4 L163.4,763.4 L164.4,763.4 L165.5,763.4 L166.5,763.4 L167.6,763.3 L168.6,763.3 L169.7,763.3 L170.7,763.3 L171.8,763.3 L172.8,763.2 L173.9,763.2 L174.9,763.2 L176.0,763.2 L177.0,763.1 L178.1,763.1 L179.1,763.1 L180.2,763.1 L190.6,762.8 L201.1,762.4 L211.6,762.1 L222.1,761.7 L232.5,761.3 L243.0,760.9 L253.5,760.5 L264.0,760.1 L274.4,759.7 L284.9,759.3 L295.4,758.9 L305.9,758.5 L316.3,758.0 L326.8,757.6 L337.3,757.2 L347.8,756.8 L358.2,756.4 L368.7,755.9 L379.2,755.5 L389.7,755.1 L400.2,754.7 L410.6,754.2 L421.1,753.8 L431.6,753.4 L442.1,752.9 L452.5,752.5 L463.0,752.1 L473.5,751.7 L484.0,751.2 L494.4,750.8 L504.9,750.4 L515.4,749.9 L525.9,749.5 L536.3,749.1 L546.8,748.7 L557.3,748.2 L567.8,747.8 L578.2,747.4 L588.7,746.9 L599.2,746.5 L609.7,746.1 L620.1,745.7 L630.6,745.2 L641.1,744.8" stroke="#9a9090" stroke-dasharray="1.2 1.9"/>
</g>
<rect x="117.3" y="381.3" width="523.8" height="385.0" fill="none" stroke="#000" stroke-width="1.7"/>
<path d="M143.5,766.3v-4.3M143.5,381.3v4.3M169.7,766.3v-4.3M169.7,381.3v4.3M195.9,766.3v-4.3M195.9,381.3v4.3M222.1,766.3v-8.0M222.1,381.3v8.0M248.2,766.3v-4.3M248.2,381.3v4.3M274.4,766.3v-4.3M274.4,381.3v4.3M300.6,766.3v-4.3M300.6,381.3v4.3M326.8,766.3v-8.0M326.8,381.3v8.0M353.0,766.3v-4.3M353.0,381.3v4.3M379.2,766.3v-4.3M379.2,381.3v4.3M405.4,766.3v-4.3M405.4,381.3v4.3M431.6,766.3v-8.0M431.6,381.3v8.0M457.8,766.3v-4.3M457.8,381.3v4.3M484.0,766.3v-4.3M484.0,381.3v4.3M510.2,766.3v-4.3M510.2,381.3v4.3M536.3,766.3v-8.0M536.3,381.3v8.0M562.5,766.3v-4.3M562.5,381.3v4.3M588.7,766.3v-4.3M588.7,381.3v4.3M614.9,766.3v-4.3M614.9,381.3v4.3M117.3,734.2h4.3M641.1,734.2h-4.3M117.3,702.1h4.3M641.1,702.1h-4.3M117.3,670.0h4.3M641.1,670.0h-4.3M117.3,638.0h4.3M641.1,638.0h-4.3M117.3,605.9h8.0M641.1,605.9h-8.0M117.3,573.8h4.3M641.1,573.8h-4.3M117.3,541.7h4.3M641.1,541.7h-4.3M117.3,509.6h4.3M641.1,509.6h-4.3M117.3,477.6h4.3M641.1,477.6h-4.3M117.3,445.5h8.0M641.1,445.5h-8.0M117.3,413.4h4.3M641.1,413.4h-4.3" stroke="#000" stroke-width="1.5" fill="none"/>
<g clip-path="url(#pc2)">
<clipPath id="pc2"><rect x="117.3" y="381.3" width="523.8" height="385.5"/></clipPath>
<path d="M265.8,750.1h15.2M273.4,742.5v15.2" stroke="#111" stroke-width="1.4" fill="none"/>
<path d="M331.3,741.5h15.2M338.9,733.9v15.2" stroke="#111" stroke-width="1.4" fill="none"/>
<path d="M409.8,737.0h15.2M417.4,729.4v15.2" stroke="#111" stroke-width="1.4" fill="none"/>
<path d="M488.4,730.5h15.2M496.0,722.9v15.2" stroke="#111" stroke-width="1.4" fill="none"/>
<path d="M265.8,752.2h15.2M273.4,744.6v15.2" stroke="#1a1aa0" stroke-width="1.4" fill="none"/>
<path d="M331.3,747.5h15.2M338.9,739.9v15.2" stroke="#1a1aa0" stroke-width="1.4" fill="none"/>
<path d="M409.8,737.9h15.2M417.4,730.3v15.2" stroke="#1a1aa0" stroke-width="1.4" fill="none"/>
<path d="M488.4,731.5h15.2M496.0,723.9v15.2" stroke="#1a1aa0" stroke-width="1.4" fill="none"/>
<path d="M265.8,763.0h15.2M273.4,755.4v15.2" stroke="#c02626" stroke-width="1.4" fill="none"/>
<path d="M331.3,759.1h15.2M338.9,751.5v15.2" stroke="#c02626" stroke-width="1.4" fill="none"/>
<path d="M409.8,754.5h15.2M417.4,746.9v15.2" stroke="#c02626" stroke-width="1.4" fill="none"/>
<path d="M488.4,747.9h15.2M496.0,740.3v15.2" stroke="#c02626" stroke-width="1.4" fill="none"/>
</g>
<rect x="266.6" y="609.3" width="13.6" height="13.6" fill="#000"/>
<rect x="332.1" y="533.0" width="13.6" height="13.6" fill="#000"/>
<rect x="489.2" y="440.5" width="13.6" height="13.6" fill="#000"/>
<rect x="266.6" y="639.5" width="13.6" height="13.6" fill="#0000ff"/>
<rect x="332.1" y="590.0" width="13.6" height="13.6" fill="#0000ff"/>
<rect x="410.6" y="504.2" width="13.6" height="13.6" fill="#0000ff"/>
<rect x="489.2" y="446.2" width="13.6" height="13.6" fill="#0000ff"/>
<rect x="266.6" y="727.0" width="13.6" height="13.6" fill="#ff0000"/>
<rect x="332.1" y="686.4" width="13.6" height="13.6" fill="#ff0000"/>
<rect x="410.6" y="654.3" width="13.6" height="13.6" fill="#ff0000"/>
<rect x="489.2" y="590.8" width="13.6" height="13.6" fill="#ff0000"/>
<circle cx="273.4" cy="702.2" r="7.1" fill="#fff" stroke="#b32424" stroke-width="1.4"/>
<circle cx="338.9" cy="693.2" r="7.1" fill="#fff" stroke="#b32424" stroke-width="1.4"/>
<circle cx="496.0" cy="653.7" r="7.1" fill="#fff" stroke="#b32424" stroke-width="1.4"/>
<circle cx="273.4" cy="632.0" r="7.1" fill="#fff" stroke="#111" stroke-width="1.4"/>
<circle cx="338.9" cy="623.4" r="7.1" fill="#fff" stroke="#111" stroke-width="1.4"/>
<circle cx="417.4" cy="586.5" r="7.1" fill="#fff" stroke="#111" stroke-width="1.4"/>
<circle cx="496.0" cy="535.9" r="7.1" fill="#fff" stroke="#111" stroke-width="1.4"/>
<circle cx="273.4" cy="678.2" r="7.1" fill="#fff" stroke="#1c1c9c" stroke-width="1.4"/>
<circle cx="338.9" cy="678.2" r="7.1" fill="#fff" stroke="#1c1c9c" stroke-width="1.4"/>
<circle cx="417.4" cy="673.7" r="7.1" fill="#fff" stroke="#1c1c9c" stroke-width="1.4"/>
<circle cx="496.0" cy="631.8" r="7.1" fill="#fff" stroke="#1c1c9c" stroke-width="1.4"/>
<g font-family="'Liberation Serif',serif" font-size="32" fill="#000">
<text x="117.8" y="799.6" text-anchor="middle">0</text>
<text x="222.6" y="799.6" text-anchor="middle">200</text>
<text x="327.3" y="799.6" text-anchor="middle">400</text>
<text x="432.1" y="799.6" text-anchor="middle">600</text>
<text x="536.8" y="799.6" text-anchor="middle">800</text>
<text x="641.6" y="799.6" text-anchor="middle">1000</text>
<text x="109" y="775.5" text-anchor="end">0.00</text>
<text x="109" y="615.1" text-anchor="end">0.05</text>
<text x="109" y="454.7" text-anchor="end">0.10</text>
<text x="378.9" y="830.3" text-anchor="middle" textLength="70.5" lengthAdjust="spacingAndGlyphs">T (K)</text>
<text transform="translate(33.9,599.6) rotate(-90)" text-anchor="middle">MSD (Å<tspan font-size="19" dy="-16.9">2</tspan><tspan dy="16.9">)</tspan></text>
</g>
<rect x="168.1" y="390.7" width="11.8" height="11.8" fill="#000"/>
<circle cx="174.2" cy="421.3" r="6.5" fill="#fff" stroke="#111" stroke-width="1.2"/>
<path d="M167.4,446.8h13.2M174.0,440.2v13.2" stroke="#111" stroke-width="1.2" fill="none"/>
<text x="191.8" y="401.0" font-family="'Liberation Serif',serif" font-size="15.3" stroke="#111" stroke-width="0.2" fill="#111">θ<tspan font-size="8.8" dy="6">1<tspan text-decoration="overline">1</tspan>0</tspan><tspan dy="-6" dx="0.8">=4.4 meV</tspan></text>
<text x="191.8" y="425.7" font-family="'Liberation Serif',serif" font-size="15.3" stroke="#111" stroke-width="0.2" fill="#111">θ<tspan font-size="8.8" dy="6">001</tspan><tspan dy="-6" dx="0.8">=5.3 meV</tspan></text>
<text x="191.8" y="451.2" font-family="'Liberation Serif',serif" font-size="15.3" stroke="#111" stroke-width="0.2" fill="#111">θ<tspan font-size="8.8" dy="6">110</tspan><tspan dy="-6" dx="0.8">=13.2 meV</tspan></text>
<text x="136.4" y="428.3" font-family="'Liberation Sans',sans-serif" font-size="18.7" stroke="#111" stroke-width="0.1" fill="#111" textLength="17.8" lengthAdjust="spacingAndGlyphs">Bi</text>
<rect x="349.5" y="390.7" width="11.8" height="11.8" fill="#0000ff"/>
<circle cx="355.6" cy="421.1" r="6.5" fill="#fff" stroke="#24248c" stroke-width="1.2"/>
<path d="M348.8,446.8h13.2M355.4,440.2v13.2" stroke="#1c1c8c" stroke-width="1.2" fill="none"/>
<text x="373.5" y="401.0" font-family="'Liberation Serif',serif" font-size="15.3" stroke="#1c1c8c" stroke-width="0.2" fill="#1c1c8c">θ<tspan font-size="8.8" dy="6">1<tspan text-decoration="overline">1</tspan>0</tspan><tspan dy="-6" dx="0.8">=4.6 meV</tspan></text>
<text x="373.5" y="425.5" font-family="'Liberation Serif',serif" font-size="15.3" stroke="#1c1c8c" stroke-width="0.2" fill="#1c1c8c">θ<tspan font-size="8.8" dy="6">001</tspan><tspan dy="-6" dx="0.8">=6.9 meV</tspan></text>
<text x="373.5" y="451.2" font-family="'Liberation Serif',serif" font-size="15.3" stroke="#1c1c8c" stroke-width="0.2" fill="#1c1c8c">θ<tspan font-size="8.8" dy="6">110</tspan><tspan dy="-6" dx="0.8">=13.8 meV</tspan></text>
<text x="308.4" y="427.6" font-family="'Liberation Sans',sans-serif" font-size="18.7" stroke="#1a1aa2" stroke-width="0.1" fill="#1a1aa2" textLength="33.0" lengthAdjust="spacingAndGlyphs">Te2</text>
<rect x="168.7" y="484.4" width="11.8" height="11.8" fill="#ff0000"/>
<circle cx="174.8" cy="515.1" r="6.5" fill="#fff" stroke="#a83248" stroke-width="1.2"/>
<path d="M168.0,540.2h13.2M174.6,533.6v13.2" stroke="#b32424" stroke-width="1.2" fill="none"/>
<text x="191.8" y="494.7" font-family="'Liberation Serif',serif" font-size="15.3" stroke="#b32424" stroke-width="0.2" fill="#b32424">θ<tspan font-size="8.8" dy="6">1<tspan text-decoration="overline">1</tspan>0</tspan><tspan dy="-6" dx="0.8">=6.7 meV</tspan></text>
<text x="191.8" y="519.5" font-family="'Liberation Serif',serif" font-size="15.3" stroke="#b32424" stroke-width="0.2" fill="#b32424">θ<tspan font-size="8.8" dy="6">001</tspan><tspan dy="-6" dx="0.8">=7.4 meV</tspan></text>
<text x="191.8" y="544.6" font-family="'Liberation Serif',serif" font-size="15.3" stroke="#b32424" stroke-width="0.2" fill="#b32424">θ<tspan font-size="8.8" dy="6">110</tspan><tspan dy="-6" dx="0.8">=20.4 meV</tspan></text>
<text x="126.6" y="520.0" font-family="'Liberation Sans',sans-serif" font-size="18.7" stroke="#cc1818" stroke-width="0.1" fill="#cc1818" textLength="32.4" lengthAdjust="spacingAndGlyphs">Te1</text>
</g>
</svg>
</body></html>
